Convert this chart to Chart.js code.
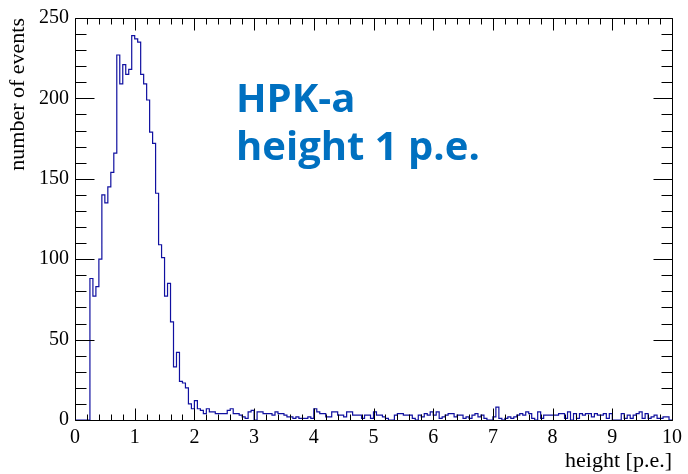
<!DOCTYPE html>
<html><head><meta charset="utf-8">
<script src="https://cdn.jsdelivr.net/npm/chart.js@4/dist/chart.umd.min.js"></script>
<style>html,body{margin:0;padding:0;background:#fff}#wrap{width:688px;height:474px;position:relative}</style>
</head><body><div id="wrap"><canvas id="c" width="688" height="474"></canvas></div>
<script>
// ---- data ----
const binStart = 0;
const binWidth = 0.05;
const counts = [
  0,0,0,0,0, 88,77,83,100,140,
  135,145,154,166,227, 209,221,215,218,239,
  237,235,215,209,199, 179,172,141,109,101,
  77,85,61,33,42, 24,23,20,10,7,
  12,7,6,4,7,5,5,4,4,4,
  4,6,7,4,4,3,2,1,5,6,
  0,5,5,4,4,4,3,5,4,4,
  3,2,2,1,2,1,1,1,2,1,
  7,5,4,4,2,2,5,5,3,3,
  2,5,5,3,3,3,1,3,3,1,
  5,3,3,2,1,0,0,3,4,4,
  3,3,3,1,0,3,2,4,3,5,
  3,5,1,2,3,4,4,2,3,3,
  1,2,1,3,4,2,3,1,0,0,
  2,8,1,0,1,2,1,2,3,4,
  3,5,4,1,0,5,1,3,3,3,
  3,3,4,4,1,5,0,4,1,4,
  3,4,4,2,4,3,3,4,1,4,
  0,0,0,4,1,3,1,3,4,5,
  1,4,1,2,3,1,1,2,2,0
];
const xRange = [0, 10];
const yRange = [0, 250];
const xMajorStep = 1, xMinorDiv = 5;
const yMajorStep = 50, yMinorDiv = 5;
const xTitle = 'height [p.e.]';
const yTitle = 'number of events';
const labelLines = ['HPK-a', 'height 1 p.e.'];

// ---- build ----
const points = counts.map((v, i) => ({x: binStart + i * binWidth, y: v}));
points.push({x: binStart + counts.length * binWidth, y: counts[counts.length - 1]});

const rootFrame = {
  id: 'rootFrame',
  afterDatasetsDraw(chart) {
    const {ctx, chartArea: a, scales: {x, y}} = chart;
    const L = Math.round(a.left) + 0.5, R = Math.round(a.right) + 0.5;
    const T = Math.round(a.top) + 0.5, B = Math.round(a.bottom) + 0.5;
    ctx.save();
    ctx.strokeStyle = '#000';
    ctx.lineWidth = 1;
    ctx.beginPath();
    ctx.rect(L, T, R - L, B - T);
    const xMaj = 12, xMin = 6, yMaj = 19, yMin = 11;
    const nx = Math.round((xRange[1] - xRange[0]) / xMajorStep * xMinorDiv);
    for (let k = 0; k <= nx; k++) {
      const v = xRange[0] + k * xMajorStep / xMinorDiv;
      const px = Math.round(x.getPixelForValue(v)) + 0.5;
      const len = (k % xMinorDiv === 0) ? xMaj : xMin;
      ctx.moveTo(px, B); ctx.lineTo(px, B - len);
      ctx.moveTo(px, T); ctx.lineTo(px, T + len);
    }
    const ny = Math.round((yRange[1] - yRange[0]) / yMajorStep * yMinorDiv);
    for (let k = 0; k <= ny; k++) {
      const v = yRange[0] + k * yMajorStep / yMinorDiv;
      const py = Math.round(y.getPixelForValue(v)) + 0.5;
      const len = (k % yMinorDiv === 0) ? yMaj : yMin;
      ctx.moveTo(L, py); ctx.lineTo(L + len, py);
      ctx.moveTo(R, py); ctx.lineTo(R - len, py);
    }
    ctx.stroke();
    ctx.restore();
  },
  afterDraw(chart) {
    const {ctx} = chart;
    ctx.save();
    ctx.fillStyle = '#0070C0';
    ctx.font = 'bold 40px "Open Sans"';
    ctx.textBaseline = 'alphabetic';
    ctx.textAlign = 'left';
    ctx.fillText(labelLines[0], 236, 112);
    ctx.fillText(labelLines[1], 236, 160);
    ctx.restore();
  }
};

new Chart(document.getElementById('c').getContext('2d'), {
  type: 'line',
  data: {datasets: [{
    data: points, stepped: 'before', borderColor: '#1010a0', borderWidth: 1.2,
    pointRadius: 0, fill: false, tension: 0
  }]},
  options: {
    responsive: false, animation: false,
    layout: {padding: {top: 15, right: 11, left: 0, bottom: 0}},
    plugins: {legend: {display: false}, tooltip: {enabled: false}},
    scales: {
      x: {
        type: 'linear', min: xRange[0], max: xRange[1],
        ticks: {stepSize: xMajorStep, font: {family: 'Liberation Serif', size: 20}, color: '#000', padding: 6, maxRotation: 0, autoSkip: false},
        grid: {display: false, drawTicks: false}, border: {display: false},
        title: {display: true, text: xTitle, align: 'end', font: {family: 'Liberation Serif', size: 22}, color: '#000', padding: {top: 0, bottom: 0}},
        afterFit(s) { s.height = 54; }
      },
      y: {
        type: 'linear', min: yRange[0], max: yRange[1],
        ticks: {stepSize: yMajorStep, font: {family: 'Liberation Serif', size: 20}, color: '#000', padding: 6},
        grid: {display: false, drawTicks: false}, border: {display: false},
        title: {display: true, text: yTitle, align: 'end', font: {family: 'Liberation Serif', size: 22}, color: '#000', padding: {top: 5, bottom: 0}},
        afterFit(s) { s.width = 75; }
      }
    }
  },
  plugins: [rootFrame]
});
</script>
</body></html>
